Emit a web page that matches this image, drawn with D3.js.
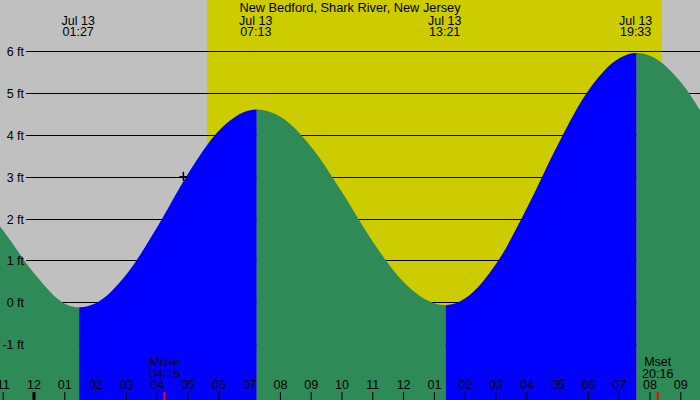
<!DOCTYPE html>
<html>
<head>
<meta charset="utf-8">
<script src="https://cdn.jsdelivr.net/npm/d3@7"></script>
<style>
  html, body { margin: 0; padding: 0; background: #fff; }
  svg { display: block; }
  text { font-family: "Liberation Sans", Arial, sans-serif; font-size: 12.5px; fill: #000; }
</style>
</head>
<body>
<div id="chart"></div>
<script>
// ---- data ----
const title = "New Bedford, Shark River, New Jersey";
const dateLabel = "Jul 13";
const extremeTimes = ["01:27", "07:13", "13:21", "19:33"];
const extremeTypes = ["low", "high", "low", "high"];
const extremeHeights = [-0.12, 4.61, -0.07, 5.96];

// hourly readings of the tide curve (hours after midnight Jul 13, feet)
const sampleHours = [-2, -1, 0, 1, 1.45, 2, 3, 4, 5, 6, 7, 7.217, 8, 9, 10, 11, 12, 13, 13.35, 14, 15, 16, 17, 18, 19, 19.55, 20, 21, 22];
const sampleHeights = [2.6, 1.70, 0.68, -0.04, -0.12, -0.02, 0.68, 1.82, 3.09, 4.11, 4.59, 4.61, 4.43, 3.70, 2.61, 1.43, 0.47, -0.03, -0.07, 0.10, 0.93, 2.27, 3.78, 5.08, 5.84, 5.96, 5.89, 5.25, 4.09];

const sunrise = "05:38";
const sunset = "20:24";
const moonEvents = ["Mrise", "Mset"];
const moonTimes = ["04:15", "20:16"];
const nowTime = "04:52";
const nowHeight = 3.0;

const hourTicks = d3.range(-1, 22);
const footTicks = [-1, 0, 1, 2, 3, 4, 5, 6];

// ---- helpers ----
const toH = s => { const [a, b] = s.split(":").map(Number); return a + b / 60; };
const W = 700, H = 400;
const x = d3.scaleLinear().domain([-1.0877, 21.64]).range([0, W]);
const y = d3.scaleLinear().domain([-1, 6]).range([344.1, 51.3]);

const svg = d3.select("#chart").append("svg").attr("width", W).attr("height", H);

// background
svg.append("rect").attr("width", W).attr("height", H).attr("fill", "#c0c0c0");
svg.append("rect")
  .attr("x", x(toH(sunrise))).attr("y", 0)
  .attr("width", x(toH(sunset)) - x(toH(sunrise))).attr("height", H)
  .attr("fill", "#cccc00");

// grid lines (under the water)
const gridAxis = d3.axisLeft(y).tickValues(footTicks).tickSize(-(W - 26)).tickFormat("");
const gGrid = svg.append("g").attr("transform", "translate(26,0)").call(gridAxis);
gGrid.select(".domain").remove();
gGrid.selectAll("line").attr("stroke", "#000").attr("shape-rendering", "crispEdges");

// tide area, split into rising (blue) and falling (green) parts
const samples = sampleHours.map((h, i) => ({ h, v: sampleHeights[i] }));
const area = d3.area().x(d => x(d.h)).y0(H).y1(d => y(d.v)).curve(d3.curveMonotoneX);
const bounds = [x.domain()[0] - 2, ...extremeTimes.map(toH), x.domain()[1] + 2];
const defs = svg.append("defs");
const gWater = svg.append("g").attr("transform", "translate(1,0)");
for (let i = 0; i < bounds.length - 1; i++) {
  const nextType = i < extremeTypes.length ? extremeTypes[i] : (extremeTypes[extremeTypes.length - 1] === "high" ? "low" : "high");
  const rising = nextType === "high";
  defs.append("clipPath").attr("id", "seg" + i)
    .append("rect")
    .attr("x", x(bounds[i])).attr("y", 0)
    .attr("width", x(bounds[i + 1]) - x(bounds[i])).attr("height", H);
  gWater.append("path").datum(samples)
    .attr("d", area)
    .attr("clip-path", "url(#seg" + i + ")")
    .attr("fill", rising ? "#0000ff" : "#2e8b57");
}

// y labels (on top)
const labelAxis = d3.axisLeft(y).tickValues(footTicks).tickSize(0).tickPadding(2).tickFormat(d => d + " ft");
const gLab = svg.append("g").attr("transform", "translate(26,0)").call(labelAxis);
gLab.select(".domain").remove();
gLab.selectAll("text").attr("dy", "0.36em").style("font-family", "Liberation Sans, Arial, sans-serif").style("font-size", "12.5px");

// title
svg.append("text").attr("x", 350).attr("y", 12).attr("text-anchor", "middle").style("font-size", "12.8px").text(title);

// extreme labels
extremeTimes.forEach(t => {
  const g = svg.append("g").attr("transform", `translate(${x(toH(t))},0)`);
  g.append("text").attr("y", 24.5).attr("text-anchor", "middle").text(dateLabel);
  g.append("text").attr("y", 36).attr("text-anchor", "middle").text(t);
});

// bottom hour axis
const fmt = h => { const m = ((h % 12) + 12) % 12; return m === 0 ? "12" : String(m).padStart(2, "0"); };
const hourAxis = d3.axisTop(x).tickValues(hourTicks).tickSize(8).tickPadding(3).tickFormat(fmt);
const gX = svg.append("g").attr("transform", `translate(0,${H})`).call(hourAxis);
gX.select(".domain").remove();
gX.selectAll("line").attr("stroke", "#000").attr("stroke-width", d => (d % 24 === 0 ? 3 : 1));
gX.selectAll("text").style("font-family", "Liberation Sans, Arial, sans-serif").style("font-size", "12.5px");

// moon events
moonEvents.forEach((name, i) => {
  const mx = x(toH(moonTimes[i]));
  svg.append("text").attr("x", mx).attr("y", 366).attr("text-anchor", "middle").text(name);
  svg.append("text").attr("x", mx).attr("y", 377.7).attr("text-anchor", "middle").text(moonTimes[i]);
  svg.append("line").attr("x1", mx).attr("x2", mx).attr("y1", H - 8).attr("y2", H)
    .attr("stroke", "#ff0000").attr("stroke-width", 2);
});

// current-time marker
const nx = x(toH(nowTime)), ny = y(nowHeight);
svg.append("line").attr("x1", nx - 4).attr("x2", nx + 4).attr("y1", ny).attr("y2", ny).attr("stroke", "#000").attr("stroke-width", 1.5);
svg.append("line").attr("x1", nx).attr("x2", nx).attr("y1", ny - 5).attr("y2", ny + 4).attr("stroke", "#000").attr("stroke-width", 1.5);
</script>
</body>
</html>
